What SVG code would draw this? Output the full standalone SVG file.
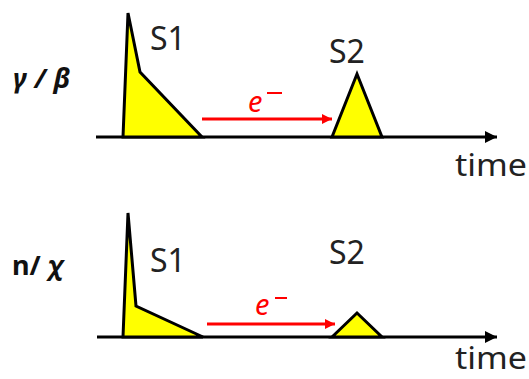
<svg xmlns="http://www.w3.org/2000/svg" width="529" height="379" viewBox="0 0 529 379">
<style>
.sig{font-family:"Noto Sans","Liberation Sans",sans-serif;font-size:32px;fill:#222;}
.time{font-family:"Noto Sans","Liberation Sans",sans-serif;font-size:30px;fill:#222;}
.greek{font-family:"Noto Sans","DejaVu Sans",sans-serif;font-size:27px;font-weight:bold;fill:#111;}
.el{font-family:"Noto Sans","Liberation Sans",sans-serif;font-size:29px;font-style:italic;fill:#ff0000;}
.pk{fill:#ffff00;stroke:#000;stroke-width:3;stroke-linejoin:miter;}
.axis{stroke:#000;stroke-width:3;fill:none;}
.flow{stroke:#ff0000;stroke-width:3;fill:none;}
</style>
<defs>
<marker id="ax" markerUnits="userSpaceOnUse" markerWidth="13" markerHeight="13" refX="12" refY="6" orient="auto"><path d="M0,0 L12,6 L0,12 z" fill="#000"/></marker>
<marker id="rd" markerUnits="userSpaceOnUse" markerWidth="11" markerHeight="11" refX="10" refY="5" orient="auto"><path d="M0,0 L10,5 L0,10 z" fill="#ff0000"/></marker>
</defs>
<rect width="529" height="379" fill="#fff"/>
<g id="connectors">
<line class="axis" x1="96" y1="137" x2="497" y2="137" marker-end="url(#ax)"/>
<line class="axis" x1="97" y1="337" x2="497" y2="337" marker-end="url(#ax)"/>
<line class="flow" x1="202" y1="119" x2="332" y2="119" marker-end="url(#rd)"/>
<line class="flow" x1="207" y1="324" x2="335" y2="324" marker-end="url(#rd)"/>
</g>
<g id="label-top"><text class="greek" x="13" y="88" font-style="italic" textLength="57" lengthAdjust="spacing">γ / β</text></g>
<g id="label-bottom"><text class="greek" x="12" y="275">n/ <tspan font-style="italic">χ</tspan></text></g>
<g id="s1-top">
<polygon class="pk" points="123,137 128,13 140,72 202,137"/>
<text class="sig" x="150" y="50">S1</text>
</g>
<g id="s2-top">
<polygon class="pk" points="332,137 357,74 382,137"/>
<text class="sig" x="329" y="63">S2</text>
</g>
<g id="s1-bottom">
<polygon class="pk" points="123,337 128,213 136,306 203,337"/>
<text class="sig" x="150" y="272">S1</text>
</g>
<g id="s2-bottom">
<polygon class="pk" points="332,337 357,313 382,337"/>
<text class="sig" x="329" y="264">S2</text>
</g>
<g id="electron-top"><text class="el" x="248" y="112">e</text><line x1="267" y1="93" x2="282" y2="93" stroke="#ff0000" stroke-width="2"/></g>
<g id="electron-bottom"><text class="el" x="255" y="315">e</text><line x1="275" y1="298" x2="287" y2="298" stroke="#ff0000" stroke-width="2"/></g>
<g id="time-top"><text class="time" x="455" y="176" textLength="72" lengthAdjust="spacingAndGlyphs">time</text></g>
<g id="time-bottom"><text class="time" x="455" y="369" font-size="28" textLength="72" lengthAdjust="spacingAndGlyphs">time</text></g>
</svg>
